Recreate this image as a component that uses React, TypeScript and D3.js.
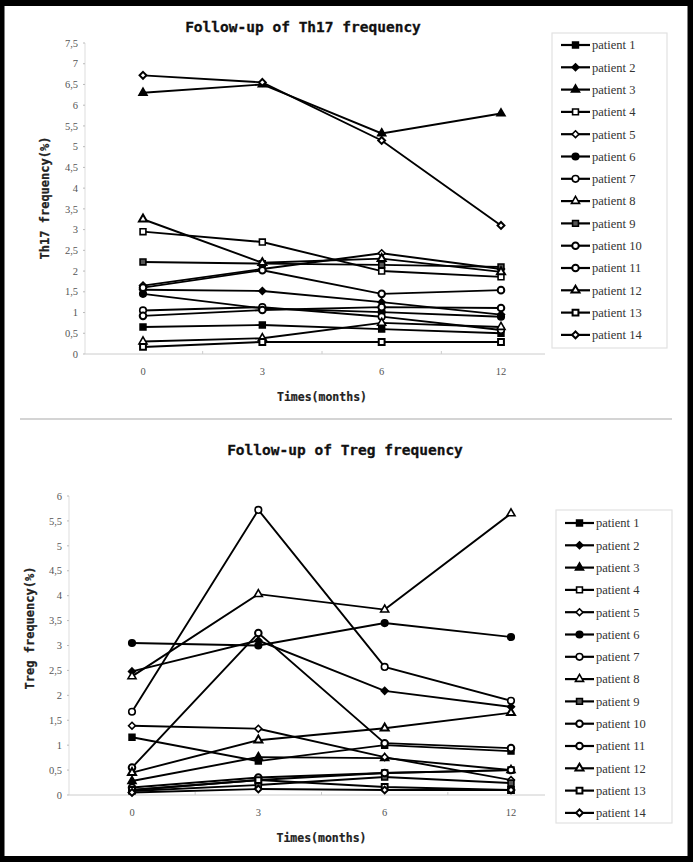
import React from "react";
import * as d3 from "d3";

const months = ["0", "3", "6", "12"];
const patients = [
  "patient 1", "patient 2", "patient 3", "patient 4", "patient 5", "patient 6", "patient 7",
  "patient 8", "patient 9", "patient 10", "patient 11", "patient 12", "patient 13", "patient 14",
];

// Th17 frequency (%) at 0, 3, 6, 12 months
const th17Values = [
  [0.65, 0.7, 0.6, 0.5],
  [1.55, 1.52, 1.25, 0.95],
  [6.3, 6.5, 5.32, 5.8],
  [2.95, 2.7, 2.0, 1.86],
  [1.65, 2.05, 2.43, 2.05],
  [1.45, 1.1, 1.01, 0.9],
  [1.05, 1.13, 0.9, 0.58],
  [0.3, 0.38, 0.75, 0.65],
  [2.22, 2.18, 2.15, 2.1],
  [0.92, 1.06, 1.13, 1.11],
  [1.6, 2.02, 1.45, 1.54],
  [3.25, 2.2, 2.3, 1.98],
  [0.17, 0.29, 0.29, 0.29],
  [6.72, 6.55, 5.15, 3.1],
];

// Treg frequency (%) at 0, 3, 6, 12 months
const tregValues = [
  [1.16, 0.68, 1.0, 0.88],
  [2.48, 3.1, 2.09, 1.77],
  [0.28, 0.76, 0.74, 0.5],
  [0.1, 0.3, 0.44, 0.5],
  [1.39, 1.33, 0.76, 0.3],
  [3.05, 3.0, 3.45, 3.17],
  [1.67, 5.72, 2.57, 1.89],
  [2.38, 4.03, 3.72, 5.65],
  [0.08, 0.2, 0.36, 0.24],
  [0.55, 3.25, 1.04, 0.94],
  [0.15, 0.35, 0.44, 0.5],
  [0.45, 1.1, 1.34, 1.65],
  [0.1, 0.3, 0.16, 0.1],
  [0.05, 0.12, 0.1, 0.1],
];

const th17Ticks = [0, 0.5, 1, 1.5, 2, 2.5, 3, 3.5, 4, 4.5, 5, 5.5, 6, 6.5, 7, 7.5];
const tregTicks = [0, 0.5, 1, 1.5, 2, 2.5, 3, 3.5, 4, 4.5, 5, 5.5, 6];

const markerShapes = [
  "square", "diamond", "triangle", "square", "diamond", "circle", "circle",
  "triangle", "square", "circle", "circle", "triangle", "square", "diamond",
];
const markerFills = [
  "#000", "#000", "#000", "#fff", "#fff", "#000", "#fff",
  "#fff", "#555", "#fff", "#fff", "#fff", "#fff", "#fff",
];

const symbolTypes: Record<string, any> = {
  square: d3.symbolSquare,
  diamond: d3.symbolDiamond2,
  triangle: d3.symbolTriangle,
  circle: d3.symbolCircle,
};
const symbolSizes: Record<string, number> = { square: 34, diamond: 30, triangle: 28, circle: 34 };

function fmt(v: number) {
  return String(v).replace(".", ",");
}

function Marker({ i, x, y }: { i: number; x: number; y: number }) {
  const shape = markerShapes[i];
  const d = d3.symbol().type(symbolTypes[shape]).size(symbolSizes[shape])() as string;
  return (
    <path
      d={d}
      transform={`translate(${x},${y})`}
      fill={markerFills[i]}
      stroke="#000"
      strokeWidth={i >= 9 ? 2 : 1.6}
    />
  );
}

type ChartProps = {
  title: string;
  titleX: number;
  titleY: number;
  yTitle: string;
  yTitleX: number;
  yTitleY: number;
  values: number[][];
  ticks: number[];
  yTop: number;
  yBottom: number;
  axisX: number;
  axisEnd: number;
  xFirst: number;
  xLast: number;
  xTitleY: number;
  legendX: number;
  legendY: number;
  legendW: number;
  legendH: number;
  legendRow0: number;
};

function Chart(p: ChartProps) {
  const yMax = p.ticks[p.ticks.length - 1];
  const y = d3.scaleLinear().domain([0, yMax]).range([p.yBottom, p.yTop]);
  const x = d3.scalePoint<string>().domain(months).range([p.xFirst, p.xLast]);
  const step = x.step();
  const line = d3
    .line<number>()
    .x((_, j) => x(months[j]) as number)
    .y((v) => y(v));
  const boundaries = d3.range(1, months.length).map((k) => p.xFirst + step * (k - 0.5));
  return (
    <g>
      <text
        x={p.titleX}
        y={p.titleY}
        textAnchor="middle"
        fontFamily="DejaVu Sans Mono"
        fontWeight="bold"
        fontSize={14.5}
        fill="#111"
        stroke="#111"
        strokeWidth={0.3}
      >
        {p.title}
      </text>
      <text
        transform={`translate(${p.yTitleX},${p.yTitleY}) rotate(-90)`}
        textAnchor="middle"
        fontFamily="DejaVu Sans Mono"
        fontWeight="bold"
        fontSize={12}
        fill="#222"
        stroke="#222"
        strokeWidth={0.25}
      >
        {p.yTitle}
      </text>
      <text
        x={(p.xFirst + p.xLast) / 2}
        y={p.xTitleY}
        textAnchor="middle"
        fontFamily="DejaVu Sans Mono"
        fontWeight="bold"
        fontSize={11.5}
        fill="#222"
        stroke="#222"
        strokeWidth={0.2}
      >
        Times(months)
      </text>
      {/* y axis */}
      <line x1={p.axisX} x2={p.axisX} y1={p.yBottom} y2={p.yTop} stroke="#ddd" strokeWidth={1} />
      {p.ticks.map((t) => (
        <g key={t}>
          <line x1={p.axisX - 2} x2={p.axisX} y1={y(t)} y2={y(t)} stroke="#bbb" />
          <text
            x={p.axisX - 7}
            y={y(t)}
            dy="0.35em"
            textAnchor="end"
            fontFamily="Liberation Serif"
            fontSize={10.5}
            fill="#555"
          >
            {fmt(t)}
          </text>
        </g>
      ))}
      {/* x axis */}
      <line x1={p.axisX} x2={p.axisEnd} y1={p.yBottom} y2={p.yBottom} stroke="#ccc" strokeWidth={1} />
      {boundaries.map((b) => (
        <line key={b} x1={b} x2={b} y1={p.yBottom} y2={p.yBottom - 3} stroke="#ccc" />
      ))}
      {months.map((m) => (
        <text
          key={m}
          x={x(m) as number}
          y={p.yBottom + 21}
          textAnchor="middle"
          fontFamily="Liberation Serif"
          fontSize={10.5}
          fill="#555"
        >
          {m}
        </text>
      ))}
      {/* series */}
      {p.values.map((row, i) => (
        <path key={"l" + i} d={line(row) as string} fill="none" stroke="#000" strokeWidth={1.9} />
      ))}
      {p.values.map((row, i) =>
        row.map((v, j) => <Marker key={"m" + i + "-" + j} i={i} x={x(months[j]) as number} y={y(v)} />)
      )}
      {/* legend */}
      <rect
        x={p.legendX}
        y={p.legendY}
        width={p.legendW}
        height={p.legendH}
        fill="#fff"
        stroke="#e2e2e2"
        strokeWidth={1.2}
      />
      {patients.map((name, i) => {
        const ly = p.legendRow0 + i * 22.3;
        const lx = p.legendX + 9;
        return (
          <g key={name}>
            <line x1={lx} x2={lx + 29} y1={ly} y2={ly} stroke="#000" strokeWidth={2.2} />
            <Marker i={i} x={lx + 14.5} y={ly} />
            <text
              x={lx + 31}
              y={ly}
              dy="0.35em"
              fontFamily="Liberation Serif"
              fontSize={12.5}
              fill="#333"
            >
              {name}
            </text>
          </g>
        );
      })}
    </g>
  );
}

export default function App() {
  return (
    <svg
      width={693}
      height={862}
      style={{ position: "absolute", left: 0, top: 0, background: "#fff" }}
    >
      <rect x={0} y={0} width={693} height={862} fill="#fff" />
      <Chart
        title="Follow-up of Th17 frequency"
        titleX={303}
        titleY={32}
        yTitle="Th17 frequency(%)"
        yTitleX={49}
        yTitleY={198}
        values={th17Values}
        ticks={th17Ticks}
        yTop={43}
        yBottom={354}
        axisX={85}
        axisEnd={545}
        xFirst={143}
        xLast={501}
        xTitleY={401}
        legendX={552}
        legendY={33}
        legendW={115}
        legendH={315}
        legendRow0={45}
      />
      <line x1={20} x2={672} y1={419} y2={419} stroke="#aaa" strokeWidth={1.2} />
      <Chart
        title="Follow-up of Treg frequency"
        titleX={345}
        titleY={455}
        yTitle="Treg frequency(%)"
        yTitleX={34}
        yTitleY={628}
        values={tregValues}
        ticks={tregTicks}
        yTop={496}
        yBottom={795}
        axisX={69}
        axisEnd={545}
        xFirst={132}
        xLast={511}
        xTitleY={842}
        legendX={556}
        legendY={510}
        legendW={116}
        legendH={313}
        legendRow0={523}
      />
      <line x1={688.5} x2={688.5} y1={5} y2={857} stroke="#999" strokeWidth={1} />
      <rect x={1.5} y={3} width={689} height={856} fill="none" stroke="#000" strokeWidth={6} />
    </svg>
  );
}
